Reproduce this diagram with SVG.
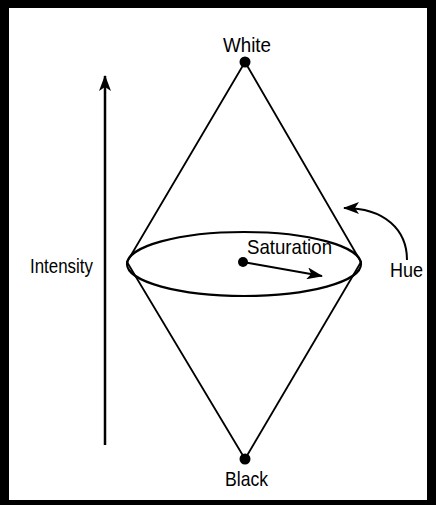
<svg xmlns="http://www.w3.org/2000/svg" width="436" height="505" viewBox="0 0 436 505">
<style>
.t{font-family:"Liberation Sans",Arial,sans-serif;font-size:21px;fill:#000}
.ln{fill:none;stroke:#000;stroke-width:1.8;stroke-linecap:round}
</style>
<defs>
<marker id="ah" viewBox="0 0 16 12" refX="15" refY="6" markerWidth="16" markerHeight="12" markerUnits="userSpaceOnUse" orient="auto">
<path d="M0,0 L16,6 L0,12 L4,6 Z" fill="#000"/>
</marker>
</defs>
<rect width="436" height="505" fill="#fff"/>
<path d="M0,0H436V505H0Z M9,8V500H427V8Z" fill="#000" fill-rule="evenodd"/>
<g id="connectors">
<line class="ln" x1="245" y1="62" x2="127" y2="262"/>
<line class="ln" x1="245" y1="62" x2="361" y2="262"/>
<line class="ln" x1="245" y1="459" x2="127" y2="262"/>
<line class="ln" x1="245" y1="459" x2="361" y2="262"/>
<line id="intensity-arrow" x1="105" y1="445" x2="105" y2="76" stroke="#000" stroke-width="2.5" marker-end="url(#ah)"/>
<line id="saturation-arrow" x1="243" y1="262" x2="322" y2="276" stroke="#000" stroke-width="2" marker-end="url(#ah)"/>
<path id="hue-arrow" d="M407,260 C407,230 385,208 344,208" fill="none" stroke="#000" stroke-width="2" marker-end="url(#ah)"/>
</g>
<g id="disc">
<ellipse cx="244" cy="264" rx="117" ry="32" fill="none" stroke="#000" stroke-width="2.2"/>
</g>
<g id="white">
<circle cx="245" cy="62" r="5.5" fill="#000"/>
<text class="t" x="223" y="52" textLength="48" lengthAdjust="spacingAndGlyphs">White</text>
</g>
<g id="black">
<circle cx="245" cy="459" r="5.5" fill="#000"/>
<text class="t" x="225" y="486" textLength="43" lengthAdjust="spacingAndGlyphs">Black</text>
</g>
<g id="saturation">
<circle cx="243" cy="262" r="5" fill="#000"/>
<text class="t" x="247" y="254" textLength="85" lengthAdjust="spacingAndGlyphs">Saturation</text>
</g>
<g id="intensity">
<text class="t" x="30" y="273" textLength="63" lengthAdjust="spacingAndGlyphs">Intensity</text>
</g>
<g id="hue">
<text class="t" x="390" y="277" textLength="33" lengthAdjust="spacingAndGlyphs">Hue</text>
</g>
</svg>
